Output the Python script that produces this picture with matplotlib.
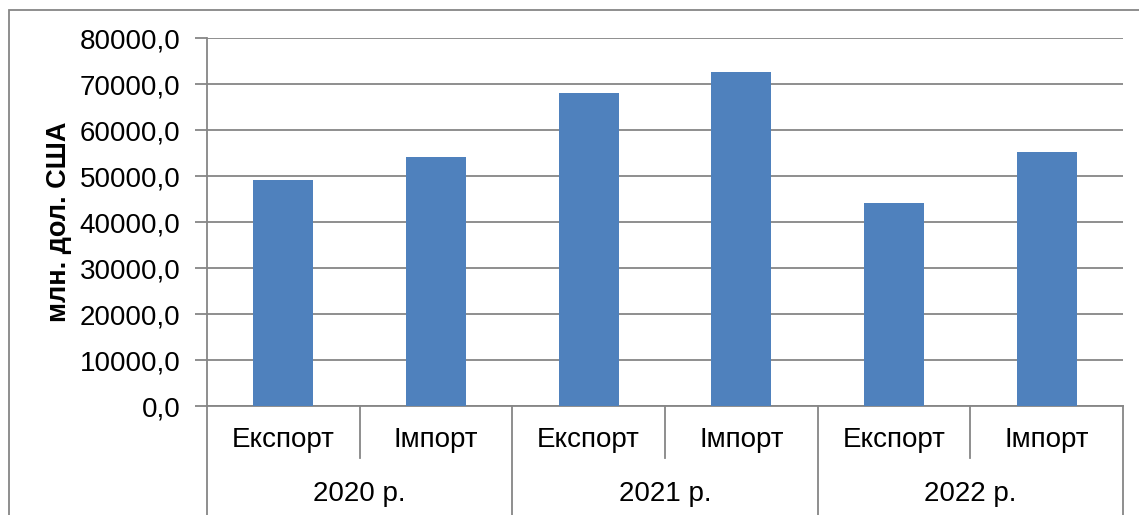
import matplotlib
matplotlib.use("Agg")
import matplotlib.pyplot as plt
import matplotlib.patches as mpatches
import matplotlib.transforms as mtransforms
from matplotlib.ticker import FuncFormatter, MultipleLocator
import numpy as np

plt.rcParams["font.family"] = ["Liberation Sans", "DejaVu Sans"]

years = ["2020 р.", "2021 р.", "2022 р."]
kinds = ["Експорт", "Імпорт"]
export_vals = [49100, 68060, 44100]
import_vals = [54250, 72770, 55210]

values = []
labels = []
for e, i in zip(export_vals, import_vals):
    values += [e, i]
    labels += kinds

grey = "#868686"
fs = 20
fig = plt.figure(figsize=(11.39, 5.15), dpi=100)
ax = fig.add_axes([207 / 1139, 1 - 406 / 515, (1123 - 207) / 1139, (406 - 38.5) / 515])

x = np.arange(len(values))
ax.bar(x, values, 0.393, color="#4F81BD", zorder=3)

ax.set_xlim(-0.5, len(values) - 0.5)
ax.set_ylim(0, 80000)
ax.yaxis.set_major_locator(MultipleLocator(10000))
ax.yaxis.set_major_formatter(FuncFormatter(lambda v, p: ("%.1f" % v).replace(".", ",")))
ax.grid(axis="y", color=grey, linewidth=1.3, zorder=0)
ax.set_xticks([])
ax.tick_params(axis="y", length=9, width=1.3, color=grey, labelsize=fs, pad=10)
for s in ["top", "right"]:
    ax.spines[s].set_visible(False)
for s in ["left", "bottom"]:
    ax.spines[s].set_color(grey)
    ax.spines[s].set_linewidth(1.3)
ax.set_ylabel("млн. дол. США", fontsize=19.5, fontweight="bold", labelpad=6)

# two-level category axis
trans = mtransforms.blended_transform_factory(ax.transData, ax.transAxes)
h = 367.5
short_y = -(458 - 406) / h
long_y = -(515 - 406) / h
for k in range(len(values) + 1):
    xp = k - 0.5
    ybot = long_y if k % 2 == 0 else short_y
    ax.plot([xp, xp], [0, ybot], color=grey, lw=1.3, transform=trans, clip_on=False)
for k, lab in enumerate(labels):
    ax.text(k, -(440 - 406) / h, lab, transform=trans, ha="center", va="center", fontsize=fs)
for j, yr in enumerate(years):
    ax.text(2 * j + 0.5, -(494 - 406) / h, yr, transform=trans, ha="center", va="center", fontsize=fs)

# outer chart border
fig.patches.append(mpatches.Rectangle((9 / 1139, -0.1), 1.2, 1 - 10 / 515 + 0.1,
                                      transform=fig.transFigure, fill=False,
                                      edgecolor=grey, linewidth=1.3))

fig.savefig("out.png", dpi=100)
